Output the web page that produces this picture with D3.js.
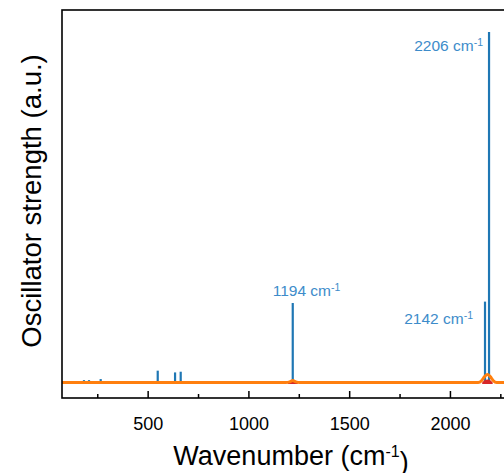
<!DOCTYPE html>
<html>
<head>
<meta charset="utf-8">
<script src="https://cdn.jsdelivr.net/npm/d3@7"></script>
<style>
  body { margin: 0; background: #fff; }
  svg { display: block; font-family: "Liberation Sans", Arial, sans-serif; }
</style>
</head>
<body>
<svg width="504" height="473"></svg>
<script>
// stick spectrum (positions as plotted, relative oscillator strength)
var stickWavenumbers = [184, 209, 267, 475, 550, 636, 664, 1220, 2174, 2194];
var stickStrengths   = [0.007, 0.007, 0.010, 0.004, 0.034, 0.029, 0.031, 0.227, 0.231, 1.0];

// annotated peaks: index into the stick arrays + label text
var peakIndex  = [7, 8, 9];
var peakLabels = ["1194", "2142", "2206"];

// broadened spectrum (orange line)
var broadX = [75, 1185, 1205, 1220, 1235, 1255, 2140, 2158, 2172, 2186, 2200, 2214, 2232, 2300];
var broadY = [0, 0, 0.002, 0.006, 0.002, 0, 0, 0.006, 0.017, 0.023, 0.017, 0.006, 0, 0];

// red filled band under the bumps
var redX = [1195, 1208, 1220, 1232, 1245, 2160, 2172, 2186, 2200, 2212];
var redY = [0, 0.004, 0.006, 0.004, 0, 0, 0.007, 0.009, 0.007, 0];

var xTicks = [500, 1000, 1500, 2000];
var xMinorTicks = [250, 750, 1250, 1750, 2250];

var svg = d3.select("svg"),
    plotLeft = 62, plotTop = 10, plotBottom = 398;

var x = d3.scaleLinear().domain([75, 2300]).range([62, 510.4]);
var y = d3.scaleLinear().domain([-0.044, 1.063]).range([plotBottom, plotTop]);

var sticks = stickWavenumbers.map(function(w, i) { return {w: w, s: stickStrengths[i]}; });

// sticks
svg.append("g").selectAll("line")
  .data(sticks)
  .enter().append("line")
    .attr("x1", function(d) { return x(d.w); })
    .attr("x2", function(d) { return x(d.w); })
    .attr("y1", y(0))
    .attr("y2", function(d) { return y(d.s); })
    .attr("stroke", "#1f77b4")
    .attr("stroke-width", 2.2);

// red band
var redPts = redX.map(function(w, i) { return [w, redY[i]]; });
var redArea = d3.area().curve(d3.curveMonotoneX)
  .x(function(d) { return x(d[0]); }).y0(y(0) + 1.5).y1(function(d) { return y(d[1]); });
svg.append("path").datum(redPts.slice(0, 5)).attr("fill", "#d62728").attr("d", redArea);
svg.append("path").datum(redPts.slice(5)).attr("fill", "#d62728").attr("d", redArea);

// orange broadened line
svg.append("path")
  .datum(broadX.map(function(w, i) { return [w, broadY[i]]; }))
  .attr("fill", "none")
  .attr("stroke", "#ff7f0e")
  .attr("stroke-width", 3)
  .attr("d", d3.line().curve(d3.curveMonotoneX)
    .x(function(d) { return x(d[0]); }).y(function(d) { return y(d[1]); }));

// peak labels
var labelOffsets = [{dx: -20, dy: -7, anchor: "start"},
                    {dx: -12, dy: 22.5, anchor: "end"},
                    {dx: -6, dy: 19, anchor: "end"}];
peakIndex.forEach(function(k, i) {
  var o = labelOffsets[i];
  var t = svg.append("text")
    .attr("x", x(stickWavenumbers[k]) + o.dx)
    .attr("y", y(stickStrengths[k]) + o.dy)
    .attr("text-anchor", o.anchor)
    .attr("fill", "#3d8cca")
    .style("font-size", "15.5px");
  t.append("tspan").text(peakLabels[i] + " cm");
  t.append("tspan").attr("dy", "-0.5em").style("font-size", "10.5px").text("-1");
});

// frame
svg.append("rect")
  .attr("x", plotLeft).attr("y", plotTop)
  .attr("width", x(2300) - plotLeft).attr("height", plotBottom - plotTop)
  .attr("fill", "none").attr("stroke", "#000").attr("stroke-width", 1.6);

// axes (inward ticks)
var gx = svg.append("g").attr("transform", "translate(0," + plotBottom + ")")
  .call(d3.axisBottom(x).tickValues(xTicks).tickSize(-7).tickPadding(19).tickFormat(d3.format("d")));
gx.select(".domain").remove();
gx.selectAll("line").attr("stroke-width", 1.5);
gx.selectAll("text").style("font-size", "18px").attr("fill", "#000")
  .style("font-family", "'Liberation Sans', Arial, sans-serif");

var gm = svg.append("g").attr("transform", "translate(0," + plotBottom + ")")
  .call(d3.axisBottom(x).tickValues(xMinorTicks).tickSize(-4).tickFormat(""));
gm.select(".domain").remove();
gm.selectAll("line").attr("stroke-width", 1.5);

// axis titles
var xt = svg.append("text")
  .attr("x", 291).attr("y", 465)
  .attr("text-anchor", "middle")
  .style("font-size", "27px");
xt.append("tspan").text("Wavenumber (cm");
xt.append("tspan").attr("dy", "-0.5em").style("font-size", "16px").text("-1");
xt.append("tspan").attr("dy", "0.5em").text(")");

svg.append("text")
  .attr("transform", "translate(41,201) rotate(-90)")
  .attr("text-anchor", "middle")
  .style("font-size", "27.5px")
  .text("Oscillator strength (a.u.)");
</script>
</body>
</html>
